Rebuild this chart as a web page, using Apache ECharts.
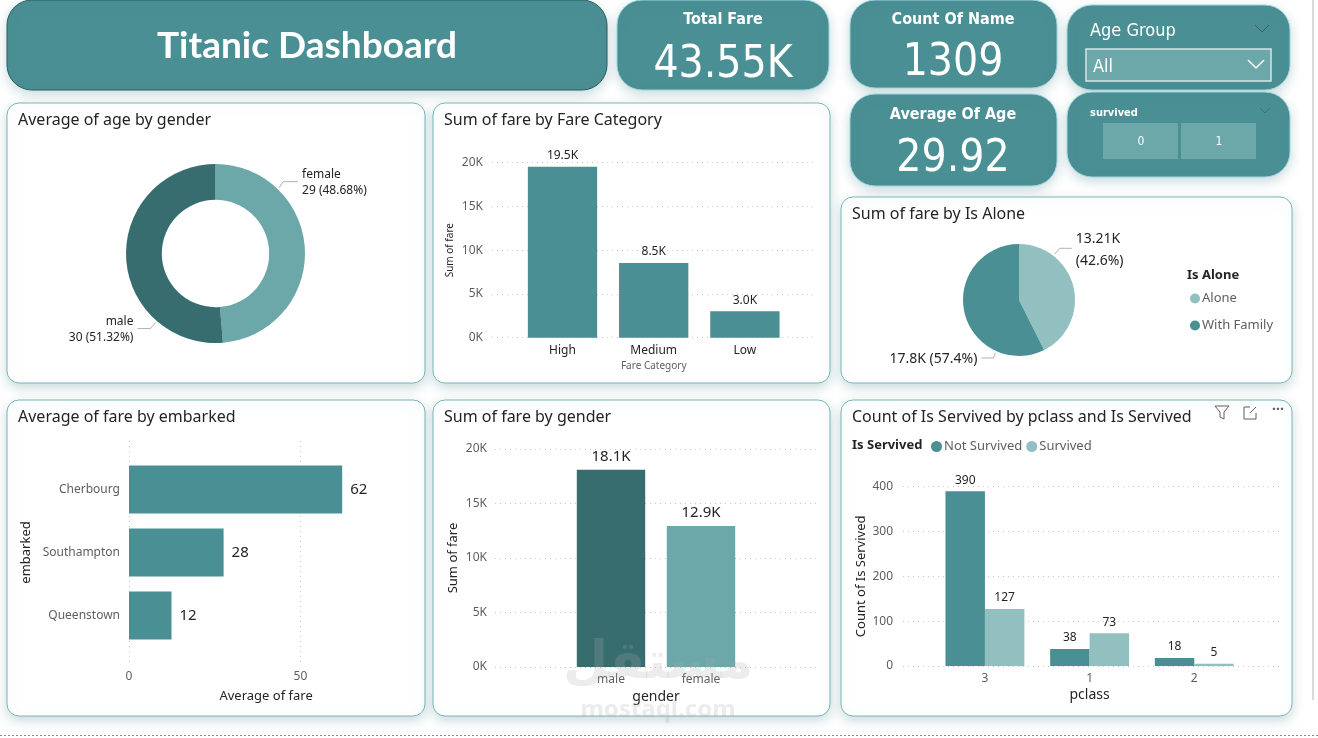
<!DOCTYPE html>
<html lang="en">
<head>
    <meta charset="UTF-8">
    <title>Titanic Dashboard</title>
    <script src="https://cdn.jsdelivr.net/npm/echarts@6/dist/echarts.min.js"></script>
    <style>
        *{ margin: 0; padding: 0; }
        body{ background-color: #ffffff; overflow: hidden; }
        #main{ width: 1318px; height: 738px; }
    </style>
</head>
<body>
<div id="main"></div>
<script>
    // ---- data ----
    var totalFare = 43550;
    var countOfName = 1309;
    var averageOfAge = 29.92;

    var genderNames = ['female', 'male'];
    var avgAgeByGender = [28.69, 30.25];

    var fareCategories = ['High', 'Medium', 'Low'];
    var fareByCategory = [19540, 8530, 3010];

    var aloneNames = ['Alone', 'With Family'];
    var fareByAlone = [13210, 17800];

    var embarkedNames = ['Cherbourg', 'Southampton', 'Queenstown'];
    var avgFareByEmbarked = [62.2, 27.6, 12.4];

    var fareGender = ['male', 'female'];
    var fareByGender = [18090, 12930];

    var pclassNames = ['3', '1', '2'];
    var notSurvived = [390, 38, 18];
    var survived = [127, 73, 5];

    var kTicks = [0, 5000, 10000, 15000, 20000];

    // ---- colours ----
    var teal = '#4a8f94';
    var tealDark = '#386d70';
    var tealMid = '#6ca8aa';
    var tealLight = '#92bfbf';
    var textDark = '#252423';
    var textGrey = '#605e5c';
    var gridCol = '#c8c6c4';
    var font = '"Noto Sans", "Open Sans", sans-serif';
    var cardFont = '"DejaVu Sans Condensed", Roboto, sans-serif';

    function fmtK(v) {
        return parseFloat((v / 1000).toPrecision(4)) + 'K';
    }

    var myChart = echarts.init(document.getElementById('main'));

    // cards / panels behind the charts
    function card(x, y, w, h, r, fill, stroke) {
        return {
            type: 'rect', z: -10, silent: true,
            shape: { x: x, y: y, width: w, height: h, r: r },
            style: { fill: fill, stroke: stroke, lineWidth: 1,
                shadowBlur: 12, shadowColor: 'rgba(80,140,145,0.30)', shadowOffsetY: 4 }
        };
    }
    function txt(x, y, s, size, color, weight, align, ff) {
        return {
            type: 'text', z: 5, silent: true, x: x, y: y,
            style: { text: s, fontSize: size, fill: color, fontWeight: weight || 'normal',
                align: align || 'left', verticalAlign: 'middle', fontFamily: ff || font }
        };
    }
    function line(points, color, w) {
        return { type: 'polyline', z: 5, silent: true, shape: { points: points },
            style: { stroke: color, lineWidth: w || 1, fill: null } };
    }

    var graphics = [
        { type: 'line', silent: true, shape: { x1: 1313, y1: 0, x2: 1313, y2: 700 }, style: { stroke: '#b5b5b5' } },
        { type: 'line', silent: true, shape: { x1: 0, y1: 735.5, x2: 1318, y2: 735.5 }, style: { stroke: '#8a8a8a', lineDash: [2, 2] } },

        // header
        card(7, 0, 600, 90, 25, teal, '#2e5b5e'),
        txt(307, 46, 'Titanic Dashboard', 37, '#ffffff', 'bold', 'center', 'Lato, "Open Sans", sans-serif'),

        // kpi cards
        card(617, 0, 212, 90, 25, teal, '#9fd6dc'),
        txt(723, 20, 'Total Fare', 16, '#ffffff', 'bold', 'center', cardFont),
        txt(723, 66, (totalFare / 1000).toFixed(2) + 'K', 44, '#ffffff', 'normal', 'center', cardFont),
        card(850, 0, 207, 88, 25, teal, '#9fd6dc'),
        txt(953, 20, 'Count Of Name', 16, '#ffffff', 'bold', 'center', cardFont),
        txt(953, 64, String(countOfName), 44, '#ffffff', 'normal', 'center', cardFont),
        card(850, 94, 207, 92, 25, teal, '#9fd6dc'),
        txt(953, 115, 'Average Of Age', 16, '#ffffff', 'bold', 'center', cardFont),
        txt(953, 160, averageOfAge.toFixed(2), 44, '#ffffff', 'normal', 'center', cardFont),

        // slicers
        card(1067, 5, 223, 85, 25, teal, '#9fd6dc'),
        txt(1090, 31, 'Age Group', 18, '#ffffff', 'normal', 'left', cardFont),
        line([[1255, 25], [1262, 32], [1269, 25]], '#3b5f61', 1),
        { type: 'rect', z: 4, silent: true, shape: { x: 1086, y: 49, width: 185, height: 32 },
            style: { fill: tealMid, stroke: '#d2e6e6', lineWidth: 1.5 } },
        txt(1093, 67, 'All', 18, '#ffffff', 'normal', 'left', cardFont),
        line([[1248, 60], [1256, 68], [1264, 60]], '#ffffff', 1.5),

        card(1067, 92, 223, 85, 25, teal, '#9fd6dc'),
        txt(1090, 113, 'survived', 11, '#ffffff', 'bold', 'left', cardFont),
        line([[1260, 108], [1265, 113], [1270, 108]], '#3b6f72', 1),
        { type: 'rect', z: 4, silent: true, shape: { x: 1103, y: 123, width: 75, height: 36 }, style: { fill: tealMid } },
        { type: 'rect', z: 4, silent: true, shape: { x: 1181, y: 123, width: 75, height: 36 }, style: { fill: tealMid } },
        txt(1141, 142, '0', 12, '#ffffff', 'normal', 'center', cardFont),
        txt(1219, 142, '1', 12, '#ffffff', 'normal', 'center', cardFont),

        // white panels
        card(7, 103, 418, 280, 12, '#ffffff', '#7ab5b8'),
        card(433, 103, 397, 280, 12, '#ffffff', '#7ab5b8'),
        card(841, 197, 451, 186, 12, '#ffffff', '#7ab5b8'),
        card(7, 400, 418, 316, 12, '#ffffff', '#7ab5b8'),
        card(433, 400, 397, 316, 12, '#ffffff', '#7ab5b8'),
        card(841, 400, 451, 316, 12, '#ffffff', '#7ab5b8'),

        txt(18, 120, 'Average of age by gender', 16, textDark),
        txt(444, 120, 'Sum of fare by Fare Category', 16, textDark),
        txt(852, 214, 'Sum of fare by Is Alone', 16, textDark),
        txt(18, 417, 'Average of fare by embarked', 16, textDark),
        txt(444, 417, 'Sum of fare by gender', 16, textDark),
        txt(852, 417, 'Count of Is Servived by pclass and Is Servived', 16, textDark),

        txt(1187, 275, 'Is Alone', 13, textDark, 'bold'),
        txt(852, 445, 'Is Servived', 13, textDark, 'bold'),

        // visual header icons
        line([[1215, 406], [1229, 406], [1224, 412], [1224, 419], [1220, 417], [1220, 412], [1215, 406]], textGrey, 1),
        line([[1250, 407], [1244, 407], [1244, 419], [1256, 419], [1256, 413]], textGrey, 1),
        line([[1250, 413], [1256, 407]], textGrey, 1),
        txt(1278, 410, '···', 14, textGrey, 'bold', 'center'),

        // watermark
        { type: 'text', z: 50, silent: true, x: 658, y: 664,
            style: { text: 'مستقل', fontSize: 52, fontWeight: 'bold', fill: 'rgba(170,170,170,0.22)',
                align: 'center', verticalAlign: 'middle', fontFamily: '"DejaVu Sans", sans-serif' } },
        { type: 'text', z: 50, silent: true, x: 658, y: 710,
            style: { text: 'mostaql.com', fontSize: 24, fontWeight: 'bold', fill: 'rgba(170,170,170,0.22)',
                align: 'center', verticalAlign: 'middle', fontFamily: font } }
    ];

    var dotted = { show: true, lineStyle: { color: gridCol, type: [1, 4], width: 1 } };
    var tickLabel = { color: textGrey, fontSize: 12, fontFamily: font };
    var nameStyle = { color: textDark, fontSize: 13, fontFamily: font };

    // helper to push pie labels where the report draws them
    function pieLabelLayout(cx, cy, r, spec) {
        return function (params) {
            var s = spec[params.dataIndex];
            var a = s.angle * Math.PI / 180;
            var p0 = [cx + (r + 2) * Math.sin(a), cy - (r + 2) * Math.cos(a)];
            var p1 = [p0[0] + s.bend[0], p0[1] + s.bend[1]];
            var p2 = [p1[0] + s.run, p1[1]];
            var dir = s.run > 0 ? 1 : -1;
            return {
                x: p2[0] + dir * 4, y: p2[1] + s.dy,
                align: dir > 0 ? 'left' : 'right', verticalAlign: 'middle',
                labelLinePoints: [p0, p1, p2]
            };
        };
    }

    var option = {
        animation: false,
        textStyle: { fontFamily: font },
        graphic: graphics,
        legend: [
            {
                data: ['Not Survived', 'Survived'],
                left: 926, top: 435, itemWidth: 11, itemHeight: 11, itemGap: 4, icon: 'circle',
                textStyle: { color: textGrey, fontSize: 13, fontFamily: font, padding: [0, 0, 0, -3] },
                selectedMode: false
            },
            {
                data: aloneNames, orient: 'vertical',
                left: 1185, top: 287, itemWidth: 10, itemHeight: 10, itemGap: 14, icon: 'circle',
                textStyle: { color: textGrey, fontSize: 13, fontFamily: font, padding: [0, 0, 0, -3] },
                selectedMode: false
            }
        ],
        grid: [
            { left: 492, top: 162.7, width: 324, height: 175 },     // 0 fare category gridlines
            { left: 516.9, top: 162.7, width: 273.6, height: 175 }, // 1 fare category bars
            { left: 129, top: 441, width: 274.2, height: 222 },     // 2 embarked gridlines
            { left: 129, top: 458, width: 274.2, height: 189 },     // 3 embarked bars
            { left: 495, top: 449, width: 325, height: 218 },       // 4 gender gridlines
            { left: 566, top: 449, width: 180, height: 218 },       // 5 gender bars
            { left: 903, top: 486.7, width: 377, height: 179.3 },   // 6 pclass gridlines
            { left: 932.6, top: 486.7, width: 314, height: 179.3 }  // 7 pclass bars
        ],
        xAxis: [
            { gridIndex: 0, type: 'value', show: false, min: 0, max: 1 },
            {
                gridIndex: 1, type: 'category', data: fareCategories,
                axisLine: { show: false }, axisTick: { show: false },
                axisLabel: { color: textDark, fontSize: 12, margin: 7 },
                name: 'Fare Category', nameLocation: 'middle', nameGap: 23,
                nameTextStyle: { color: textGrey, fontSize: 10 }
            },
            {
                gridIndex: 2, type: 'value', min: 0, max: 80, interval: 50,
                axisLine: { show: false }, axisTick: { show: false },
                axisLabel: Object.assign({ margin: 8, showMaxLabel: false }, tickLabel),
                splitLine: Object.assign({ showMaxLine: false }, dotted),
                name: 'Average of fare', nameLocation: 'middle', nameGap: 27, nameTextStyle: nameStyle
            },
            { gridIndex: 3, type: 'value', show: false, min: 0, max: 80 },
            { gridIndex: 4, type: 'value', show: false, min: 0, max: 1 },
            {
                gridIndex: 5, type: 'category', data: fareGender,
                axisLine: { show: false }, axisTick: { show: false },
                axisLabel: Object.assign({ margin: 7 }, tickLabel),
                name: 'gender', nameLocation: 'middle', nameGap: 23,
                nameTextStyle: { color: textDark, fontSize: 14 }
            },
            { gridIndex: 6, type: 'value', show: false, min: 0, max: 1 },
            {
                gridIndex: 7, type: 'category', data: pclassNames,
                axisLine: { show: false }, axisTick: { show: false },
                axisLabel: Object.assign({ margin: 7 }, tickLabel),
                name: 'pclass', nameLocation: 'middle', nameGap: 22,
                nameTextStyle: { color: textDark, fontSize: 14 }
            }
        ],
        yAxis: [
            {
                gridIndex: 0, type: 'value', min: kTicks[0], max: kTicks[kTicks.length - 1], interval: kTicks[1],
                axisLine: { show: false }, axisTick: { show: false },
                axisLabel: Object.assign({ margin: 9, formatter: function (v) { return v / 1000 + 'K'; } }, tickLabel),
                splitLine: dotted,
                name: 'Sum of fare', nameLocation: 'middle', nameGap: 37, nameRotate: 90,
                nameTextStyle: { color: textDark, fontSize: 10 }
            },
            { gridIndex: 1, type: 'value', show: false, min: kTicks[0], max: kTicks[kTicks.length - 1] },
            { gridIndex: 2, type: 'value', show: false, min: 0, max: 1 },
            {
                gridIndex: 3, type: 'category', data: embarkedNames, inverse: true,
                axisLine: { show: false }, axisTick: { show: false },
                axisLabel: Object.assign({ margin: 9 }, tickLabel),
                name: 'embarked', nameLocation: 'middle', nameGap: 96, nameRotate: 90, nameTextStyle: nameStyle
            },
            {
                gridIndex: 4, type: 'value', min: kTicks[0], max: kTicks[kTicks.length - 1], interval: kTicks[1],
                axisLine: { show: false }, axisTick: { show: false },
                axisLabel: Object.assign({ margin: 8, formatter: function (v) { return v / 1000 + 'K'; } }, tickLabel),
                splitLine: dotted,
                name: 'Sum of fare', nameLocation: 'middle', nameGap: 35, nameRotate: 90, nameTextStyle: nameStyle
            },
            { gridIndex: 5, type: 'value', show: false, min: kTicks[0], max: kTicks[kTicks.length - 1] },
            {
                gridIndex: 6, type: 'value', min: 0, max: 400, interval: 100,
                axisLine: { show: false }, axisTick: { show: false },
                axisLabel: Object.assign({ margin: 10 }, tickLabel),
                splitLine: dotted,
                name: 'Count of Is Servived', nameLocation: 'middle', nameGap: 35, nameRotate: 90, nameTextStyle: nameStyle
            },
            { gridIndex: 7, type: 'value', show: false, min: 0, max: 400 }
        ],
        series: [
            {
                name: 'Average of age', type: 'pie', silent: true,
                center: [215.5, 253.5], radius: [53.7, 89.5], startAngle: 90, clockwise: true,
                percentPrecision: 2,
                data: genderNames.map(function (n, i) {
                    return { name: n, value: avgAgeByGender[i], itemStyle: { color: i === 0 ? tealMid : tealDark } };
                }),
                label: {
                    color: textDark, fontSize: 12, lineHeight: 16,
                    formatter: function (p) { return p.name + '\n' + Math.round(p.value) + ' (' + p.percent.toFixed(2) + '%)'; }
                },
                labelLine: { show: true, lineStyle: { color: '#b3b0ad', width: 1 } },
                labelLayout: pieLabelLayout(215.5, 253.5, 89.5, [
                    { angle: 44, bend: [4, -6], run: 15, dy: 1 },
                    { angle: 221, bend: [-5, 6], run: -13, dy: 1 }
                ])
            },
            {
                name: 'Sum of fare', type: 'bar', xAxisIndex: 1, yAxisIndex: 1, silent: true,
                data: fareByCategory, barCategoryGap: '24%',
                itemStyle: { color: teal },
                label: { show: true, position: 'top', distance: 5, color: textDark, fontSize: 12,
                    formatter: function (p) { return (p.value / 1000).toFixed(1) + 'K'; } }
            },
            {
                name: 'Sum of fare by Is Alone', type: 'pie', silent: true,
                center: [1019, 300], radius: 56, startAngle: 90, clockwise: true,
                percentPrecision: 1,
                data: aloneNames.map(function (n, i) {
                    return { name: n, value: fareByAlone[i], itemStyle: { color: i === 0 ? tealLight : teal } };
                }),
                label: {
                    color: textDark, fontSize: 14, lineHeight: 22,
                    formatter: function (p) {
                        return fmtK(p.value) + (p.dataIndex === 0 ? '\n' : ' ') + '(' + p.percent + '%)';
                    }
                },
                labelLine: { show: true, lineStyle: { color: '#b3b0ad', width: 1 } },
                labelLayout: pieLabelLayout(1019, 300, 56, [
                    { angle: 38, bend: [5, -6], run: 12, dy: 2 },
                    { angle: 204, bend: [-2, 5], run: -12, dy: 1 }
                ])
            },
            {
                name: 'Average of fare', type: 'bar', xAxisIndex: 3, yAxisIndex: 3, silent: true,
                data: avgFareByEmbarked, barCategoryGap: '24%',
                itemStyle: { color: teal },
                label: { show: true, position: 'right', distance: 8, color: textDark, fontSize: 15,
                    formatter: function (p) { return Math.round(p.value); } }
            },
            {
                name: 'Sum of fare by gender', type: 'bar', xAxisIndex: 5, yAxisIndex: 5, silent: true,
                barCategoryGap: '24%',
                data: fareGender.map(function (n, i) {
                    return { value: fareByGender[i], itemStyle: { color: i === 0 ? tealDark : tealMid } };
                }),
                label: { show: true, position: 'top', distance: 6, color: textDark, fontSize: 15,
                    formatter: function (p) { return (p.value / 1000).toFixed(1) + 'K'; } }
            },
            {
                name: 'Not Survived', type: 'bar', xAxisIndex: 7, yAxisIndex: 7, silent: true,
                data: notSurvived, barGap: '0%', barCategoryGap: '24.6%',
                itemStyle: { color: teal },
                label: { show: true, position: 'top', distance: 5, color: textDark, fontSize: 12 }
            },
            {
                name: 'Survived', type: 'bar', xAxisIndex: 7, yAxisIndex: 7, silent: true,
                data: survived, barGap: '0%', barCategoryGap: '24.6%',
                itemStyle: { color: tealLight },
                label: { show: true, position: 'top', distance: 5, color: textDark, fontSize: 12 }
            }
        ]
    };

    myChart.setOption(option);
</script>
</body>
</html>
